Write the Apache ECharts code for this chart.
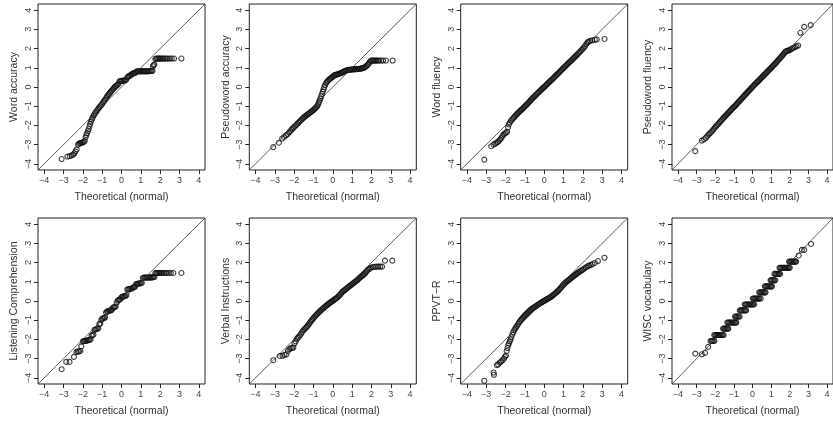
<!DOCTYPE html>
<html><head><meta charset="utf-8">
<script src="https://cdn.jsdelivr.net/npm/echarts@6/dist/echarts.min.js"></script>
<style>html,body{margin:0;padding:0;background:#fff}#c{width:833px;height:422px}</style>
</head><body><div id="c"></div>
<script>
const panelNames = ['Word accuracy','Pseudoword accuracy','Word fluency','Pseudoword fluency',
  'Listening Comprehension','Verbal Instructions','PPVT\u2212R','WISC vocabulary'];
const xAxisName = 'Theoretical (normal)';
const tickValues = [-4,-3,-2,-1,0,1,2,3,4];
const axisRange = [-4.32, 4.32];

const wordAccuracy = [[-3.1,-3.75],[-2.8,-3.62],[-2.68,-3.6],[-2.58,-3.56],[-2.5,-3.52],[-2.44,-3.45],[-2.38,-3.35],[-2.32,-3.25],
[-2.25,-3.0],[-2.2,-2.95],[-2.15,-2.92],[-2.1,-2.92],[-2.05,-2.9],[-2.0,-2.88],[-1.95,-2.86],[-1.9,-2.8],
[-1.86,-2.62],[-1.82,-2.5],[-1.78,-2.4],[-1.74,-2.3],[-1.7,-2.2],[-1.66,-2.05],[-1.62,-1.92],[-1.58,-1.8],[-1.54,-1.7],[-1.5,-1.6],[-1.45,-1.5],[-1.4,-1.42],[-1.35,-1.34],[-1.3,-1.27],[-1.25,-1.2],[-1.2,-1.13],[-1.15,-1.06],[-1.1,-1.0],[-1.05,-0.94],[-1.0,-0.88],[-0.95,-0.8],[-0.9,-0.73],[-0.85,-0.66],[-0.8,-0.58],[-0.75,-0.5],[-0.7,-0.43],[-0.65,-0.37],[-0.6,-0.3],[-0.55,-0.24],[-0.5,-0.18],[-0.45,-0.12],[-0.4,-0.06],[-0.35,0.0],[-0.3,0.04],[-0.25,0.08],[-0.2,0.12],[-0.15,0.18],
[-0.1,0.3],[-0.05,0.31],[0.0,0.32],[0.05,0.32],[0.1,0.33],[0.15,0.34],[0.2,0.35],[0.25,0.4],
[0.3,0.5],[0.35,0.55],[0.4,0.58],[0.45,0.6],[0.5,0.64],[0.55,0.68],[0.6,0.71],[0.65,0.72],[0.7,0.74],[0.75,0.77],
[0.8,0.82],[0.85,0.82],[0.9,0.82],[0.95,0.82],[1.0,0.82],[1.05,0.82],[1.1,0.82],[1.15,0.82],[1.2,0.82],[1.25,0.82],[1.3,0.82],[1.35,0.82],[1.4,0.82],[1.45,0.83],[1.5,0.83],[1.55,0.83],[1.6,0.84],
[1.63,1.08],[1.66,1.14],[1.7,1.18],
[1.75,1.46],[1.8,1.48],[1.85,1.48],[1.9,1.48],[1.95,1.48],[2.0,1.48],[2.06,1.48],[2.12,1.48],[2.18,1.48],[2.25,1.48],[2.32,1.48],[2.4,1.48],[2.5,1.48],[2.6,1.48],[2.72,1.48],[3.1,1.48]];

const pseudowordAccuracy = [[-3.08,-3.13],[-2.79,-2.9],[-2.62,-2.68],[-2.52,-2.6],[-2.42,-2.52],[-2.34,-2.45],[-2.26,-2.36],[-2.2,-2.3],[-2.14,-2.22],[-2.08,-2.16],[-2.02,-2.1],[-1.96,-2.04],[-1.9,-1.98],[-1.84,-1.92],[-1.78,-1.86],[-1.72,-1.8],[-1.66,-1.74],[-1.6,-1.68],[-1.55,-1.63],[-1.5,-1.58],[-1.45,-1.54],[-1.4,-1.5],[-1.35,-1.46],[-1.3,-1.42],[-1.25,-1.39],[-1.2,-1.35],[-1.15,-1.31],[-1.1,-1.27],[-1.05,-1.24],[-1.0,-1.2],[-0.95,-1.15],[-0.9,-1.1],[-0.85,-1.05],[-0.8,-0.98],[-0.76,-0.9],[-0.72,-0.8],[-0.68,-0.7],[-0.64,-0.6],[-0.6,-0.48],[-0.56,-0.36],[-0.52,-0.24],[-0.48,-0.12],[-0.44,0.0],[-0.4,0.1],[-0.35,0.2],[-0.3,0.27],[-0.25,0.33],[-0.2,0.38],[-0.15,0.42],[-0.1,0.46],[-0.05,0.5],[0.0,0.54],[0.05,0.58],[0.1,0.62],[0.15,0.64],[0.2,0.65],[0.25,0.66],[0.3,0.68],[0.35,0.7],[0.4,0.72],[0.45,0.74],[0.5,0.76],[0.55,0.79],[0.6,0.82],[0.65,0.84],[0.7,0.86],[0.75,0.88],[0.8,0.89],[0.85,0.9],[0.9,0.9],[0.95,0.91],[1.0,0.91],[1.05,0.92],[1.1,0.92],[1.15,0.93],[1.2,0.93],[1.25,0.93],[1.3,0.94],[1.35,0.94],[1.4,0.95],[1.45,0.96],[1.5,0.97],[1.55,0.98],[1.6,1.0],[1.65,1.02],[1.7,1.06],[1.75,1.1],[1.8,1.15],[1.85,1.2],[1.9,1.28],[1.95,1.35],[2.0,1.38],[2.05,1.38],[2.1,1.38],[2.15,1.38],[2.2,1.38],[2.26,1.38],[2.33,1.38],[2.4,1.38],[2.5,1.38],[2.6,1.38],[2.75,1.38],[3.1,1.38]];

const wordFluency = [[-3.1,-3.78],[-2.74,-3.08],[-2.62,-3.0],[-2.53,-2.94],[-2.46,-2.9],[-2.4,-2.86],[-2.34,-2.8],[-2.28,-2.73],[-2.22,-2.66],[-2.16,-2.55],[-2.1,-2.47],[-2.04,-2.42],[-1.98,-2.38],[-1.92,-2.33],[-1.87,-2.1],[-1.83,-1.95],[-1.78,-1.85],
[-1.72,-1.76],[-1.66,-1.69],[-1.6,-1.62],[-1.55,-1.56],[-1.5,-1.5],[-1.45,-1.45],[-1.4,-1.4],[-1.35,-1.35],[-1.3,-1.3],[-1.25,-1.25],[-1.2,-1.2],[-1.15,-1.16],[-1.1,-1.11],[-1.05,-1.06],[-1.0,-1.01],[-0.95,-0.96],[-0.9,-0.91],[-0.85,-0.86],[-0.8,-0.8],[-0.75,-0.75],[-0.7,-0.69],[-0.65,-0.63],[-0.6,-0.58],[-0.55,-0.53],[-0.5,-0.48],[-0.45,-0.43],[-0.4,-0.38],[-0.35,-0.33],[-0.3,-0.28],[-0.25,-0.23],[-0.2,-0.19],[-0.15,-0.14],[-0.1,-0.09],[-0.05,-0.04],[0.0,0.0],[0.05,0.05],[0.1,0.1],[0.15,0.15],[0.2,0.2],[0.25,0.25],[0.3,0.3],[0.35,0.34],[0.4,0.39],[0.45,0.44],[0.5,0.49],[0.55,0.54],[0.6,0.59],[0.65,0.64],[0.7,0.69],[0.75,0.74],[0.8,0.79],[0.85,0.84],[0.9,0.89],[0.95,0.94],[1.0,0.99],[1.05,1.04],[1.1,1.09],[1.15,1.14],[1.2,1.19],[1.25,1.24],[1.3,1.29],[1.35,1.33],[1.4,1.38],[1.45,1.43],[1.5,1.48],[1.55,1.53],[1.6,1.58],[1.65,1.63],[1.7,1.68],[1.76,1.74],[1.82,1.8],[1.88,1.86],[1.94,1.93],[2.0,2.0],[2.06,2.06],[2.12,2.14],[2.18,2.24],[2.24,2.32],[2.3,2.36],[2.38,2.4],[2.48,2.43],[2.62,2.46],[2.72,2.48],[3.12,2.5]];

const pseudowordFluency = [[-3.07,-3.34],[-2.72,-2.79],[-2.6,-2.72],[-2.5,-2.64],[-2.43,-2.56],[-2.36,-2.48],[-2.29,-2.41],[-2.22,-2.35],[-2.15,-2.27],[-2.08,-2.19],[-2.02,-2.11],[-1.96,-2.04],[-1.9,-1.98],[-1.84,-1.92],[-1.78,-1.85],[-1.72,-1.79],[-1.66,-1.72],[-1.6,-1.66],[-1.55,-1.6],[-1.5,-1.55],[-1.45,-1.5],[-1.4,-1.45],[-1.35,-1.4],[-1.3,-1.34],[-1.25,-1.29],[-1.2,-1.24],[-1.15,-1.19],[-1.1,-1.14],[-1.05,-1.09],[-1.0,-1.04],[-0.95,-0.99],[-0.9,-0.94],[-0.85,-0.89],[-0.8,-0.84],[-0.75,-0.78],[-0.7,-0.73],[-0.65,-0.68],[-0.6,-0.62],[-0.55,-0.57],[-0.5,-0.51],[-0.45,-0.46],[-0.4,-0.41],[-0.35,-0.35],[-0.3,-0.3],[-0.25,-0.25],[-0.2,-0.2],[-0.15,-0.15],[-0.1,-0.1],[-0.05,-0.04],[0.0,0.01],[0.05,0.06],[0.1,0.11],[0.15,0.16],[0.2,0.21],[0.25,0.26],[0.3,0.3],[0.35,0.35],[0.4,0.4],[0.45,0.45],[0.5,0.5],[0.55,0.55],[0.6,0.6],[0.65,0.65],[0.7,0.7],[0.75,0.75],[0.8,0.8],[0.85,0.85],[0.9,0.9],[0.95,0.95],[1.0,1.0],[1.05,1.05],[1.1,1.1],[1.15,1.15],[1.2,1.2],[1.25,1.25],[1.3,1.31],[1.35,1.36],[1.4,1.42],[1.45,1.47],[1.5,1.53],[1.55,1.58],[1.6,1.64],[1.65,1.7],[1.7,1.76],[1.75,1.82],[1.8,1.86],[1.86,1.88],[1.92,1.9],[1.98,1.92],[2.05,1.96],[2.12,2.0],[2.2,2.04],[2.28,2.08],[2.36,2.12],[2.45,2.16],[2.57,2.82],[2.77,3.13],[3.12,3.22]];

const listeningComprehension = [[-3.1,-3.55],[-2.86,-3.17],[-2.69,-3.17],[-2.46,-2.91],[-2.33,-2.65],[-2.26,-2.63],[-2.2,-2.62],[-2.13,-2.6],[-2.08,-2.36],[-2.0,-2.1],[-1.95,-2.09],[-1.9,-2.08],[-1.85,-2.07],[-1.8,-2.06],[-1.75,-2.05],[-1.7,-2.04],[-1.65,-2.02],[-1.6,-2.0],[-1.55,-1.8],[-1.5,-1.78],[-1.45,-1.75],[-1.4,-1.5],[-1.35,-1.48],[-1.3,-1.46],[-1.25,-1.44],[-1.2,-1.42],[-1.15,-1.2],[-1.1,-1.18],[-1.05,-1.0],[-1.0,-0.92],[-0.95,-0.9],[-0.9,-0.88],[-0.85,-0.86],[-0.8,-0.6],[-0.75,-0.55],[-0.7,-0.53],[-0.65,-0.51],[-0.6,-0.5],[-0.55,-0.48],[-0.5,-0.46],[-0.45,-0.35],[-0.4,-0.33],[-0.35,-0.31],[-0.3,-0.29],[-0.25,-0.1],[-0.2,0.02],[-0.15,0.05],[-0.1,0.08],[-0.05,0.1],[0.0,0.2],[0.05,0.22],[0.1,0.24],[0.15,0.25],[0.2,0.27],[0.25,0.3],[0.3,0.6],[0.35,0.61],[0.4,0.62],[0.45,0.63],[0.5,0.64],[0.55,0.66],[0.6,0.7],[0.65,0.72],[0.7,0.74],[0.75,0.88],[0.8,0.89],[0.85,0.9],[0.9,0.91],[0.95,0.92],[1.0,0.93],[1.05,0.94],[1.1,1.2],[1.15,1.22],[1.2,1.22],[1.25,1.22],[1.3,1.22],[1.35,1.22],[1.4,1.22],[1.45,1.22],[1.5,1.23],[1.55,1.23],[1.6,1.23],[1.65,1.24],[1.7,1.25],[1.75,1.45],[1.8,1.46],[1.85,1.46],[1.9,1.46],[1.95,1.46],[2.0,1.46],[2.06,1.46],[2.12,1.46],[2.2,1.46],[2.28,1.46],[2.36,1.46],[2.45,1.46],[2.55,1.46],[2.68,1.46],[3.1,1.46]];

const verbalInstructions = [[-3.08,-3.08],[-2.74,-2.86],[-2.6,-2.85],[-2.5,-2.8],[-2.4,-2.78],[-2.32,-2.6],[-2.25,-2.5],[-2.18,-2.46],[-2.1,-2.44],[-2.04,-2.42],[-1.98,-2.2],[-1.92,-2.1],[-1.87,-1.98],[-1.82,-1.92],[-1.76,-1.86],[-1.7,-1.79],[-1.64,-1.7],[-1.58,-1.6],[-1.52,-1.52],[-1.46,-1.46],[-1.4,-1.4],[-1.35,-1.35],[-1.3,-1.29],[-1.25,-1.22],[-1.2,-1.15],[-1.15,-1.08],[-1.1,-1.01],[-1.05,-0.95],[-1.0,-0.89],[-0.95,-0.83],[-0.9,-0.77],[-0.85,-0.72],[-0.8,-0.67],[-0.75,-0.62],[-0.7,-0.57],[-0.65,-0.52],[-0.6,-0.47],[-0.55,-0.42],[-0.5,-0.38],[-0.45,-0.34],[-0.4,-0.29],[-0.35,-0.25],[-0.3,-0.21],[-0.25,-0.17],[-0.2,-0.13],[-0.15,-0.09],[-0.1,-0.06],[-0.05,-0.02],[0.0,0.01],[0.05,0.05],[0.1,0.09],[0.15,0.12],[0.2,0.16],[0.25,0.2],[0.3,0.25],[0.35,0.3],[0.4,0.36],[0.45,0.42],[0.5,0.48],[0.55,0.52],[0.6,0.56],[0.65,0.6],[0.7,0.64],[0.75,0.68],[0.8,0.72],[0.85,0.76],[0.9,0.8],[0.95,0.84],[1.0,0.88],[1.05,0.92],[1.1,0.96],[1.15,1.0],[1.2,1.04],[1.25,1.07],[1.3,1.12],[1.35,1.17],[1.4,1.22],[1.45,1.26],[1.5,1.3],[1.55,1.35],[1.6,1.38],[1.65,1.42],[1.7,1.48],[1.75,1.55],[1.8,1.62],[1.86,1.66],[1.92,1.7],[2.0,1.74],[2.08,1.77],[2.16,1.78],[2.25,1.79],[2.35,1.79],[2.45,1.79],[2.55,1.79],[2.7,2.1],[3.08,2.1]];

const ppvtR = [[-3.1,-4.15],[-2.62,-3.72],[-2.6,-3.84],[-2.45,-3.34],[-2.38,-3.3],[-2.3,-3.2],[-2.22,-3.14],[-2.15,-3.08],[-2.08,-3.0],[-2.03,-2.9],[-1.98,-2.84],[-1.94,-2.6],[-1.9,-2.45],[-1.86,-2.3],[-1.82,-2.2],[-1.78,-2.1],[-1.74,-2.0],[-1.7,-1.88],[-1.65,-1.74],[-1.6,-1.62],[-1.55,-1.52],[-1.5,-1.44],[-1.45,-1.36],[-1.4,-1.28],[-1.35,-1.2],[-1.3,-1.12],[-1.25,-1.05],[-1.2,-0.98],[-1.15,-0.92],[-1.1,-0.86],[-1.05,-0.8],[-1.0,-0.75],[-0.95,-0.7],[-0.9,-0.65],[-0.85,-0.6],[-0.8,-0.55],[-0.75,-0.5],[-0.7,-0.46],[-0.65,-0.42],[-0.6,-0.38],[-0.55,-0.35],[-0.5,-0.31],[-0.45,-0.28],[-0.4,-0.25],[-0.35,-0.21],[-0.3,-0.18],[-0.25,-0.14],[-0.2,-0.11],[-0.15,-0.08],[-0.1,-0.05],[-0.05,-0.02],[0.0,0.01],[0.05,0.04],[0.1,0.07],[0.15,0.1],[0.2,0.13],[0.25,0.16],[0.3,0.19],[0.35,0.22],[0.4,0.26],[0.45,0.3],[0.5,0.34],[0.55,0.38],[0.6,0.42],[0.65,0.47],[0.7,0.52],[0.75,0.57],[0.8,0.62],[0.85,0.68],[0.9,0.74],[0.95,0.8],[1.0,0.86],[1.05,0.91],[1.1,0.96],[1.15,1.0],[1.2,1.04],[1.25,1.08],[1.3,1.12],[1.35,1.16],[1.4,1.2],[1.45,1.24],[1.5,1.28],[1.55,1.32],[1.6,1.36],[1.65,1.4],[1.7,1.44],[1.76,1.48],[1.82,1.52],[1.88,1.56],[1.94,1.6],[2.0,1.64],[2.08,1.7],[2.16,1.75],[2.24,1.8],[2.32,1.84],[2.4,1.88],[2.5,1.92],[2.62,1.98],[2.78,2.08],[3.12,2.25]];

const wiscVocabulary = [[-3.07,-2.74],[-2.72,-2.77],[-2.55,-2.7],[-2.38,-2.39],
[-2.25,-2.08],[-2.2,-2.08],[-2.15,-2.08],[-2.1,-2.08],[-2.05,-2.08],
[-2.05,-1.77],[-2.0,-1.77],[-1.95,-1.77],[-1.9,-1.77],[-1.85,-1.77],[-1.8,-1.77],[-1.75,-1.77],[-1.7,-1.77],[-1.65,-1.77],[-1.6,-1.77],[-1.55,-1.77],
[-1.58,-1.44],[-1.53,-1.44],[-1.48,-1.44],[-1.43,-1.44],[-1.38,-1.44],[-1.33,-1.44],[-1.3,-1.44],
[-1.35,-1.12],[-1.3,-1.12],[-1.25,-1.12],[-1.2,-1.12],[-1.15,-1.12],[-1.1,-1.12],[-1.05,-1.12],[-1.0,-1.12],[-0.95,-1.12],[-0.9,-1.12],[-0.87,-1.12],
[-0.94,-0.81],[-0.89,-0.81],[-0.84,-0.81],[-0.79,-0.81],[-0.74,-0.81],[-0.69,-0.81],
[-0.68,-0.49],[-0.63,-0.49],[-0.58,-0.49],[-0.53,-0.49],[-0.48,-0.49],[-0.43,-0.49],[-0.38,-0.49],[-0.34,-0.49],
[-0.42,-0.18],[-0.37,-0.18],[-0.32,-0.18],[-0.27,-0.18],[-0.22,-0.18],[-0.17,-0.18],[-0.12,-0.18],[-0.07,-0.18],[-0.02,-0.18],[0.03,-0.18],[0.09,-0.18],
[0.02,0.13],[0.07,0.13],[0.12,0.13],[0.17,0.13],[0.22,0.13],[0.27,0.13],[0.32,0.13],[0.37,0.13],[0.44,0.13],
[0.36,0.45],[0.41,0.45],[0.46,0.45],[0.51,0.45],[0.56,0.45],[0.61,0.45],[0.66,0.45],[0.7,0.45],
[0.66,0.76],[0.71,0.76],[0.76,0.76],[0.81,0.76],[0.86,0.76],[0.91,0.76],[0.96,0.76],[1.01,0.76],[1.04,0.76],
[0.97,1.08],[1.02,1.08],[1.07,1.08],[1.12,1.08],[1.17,1.08],[1.22,1.08],
[1.18,1.41],[1.23,1.41],[1.28,1.41],[1.33,1.41],[1.38,1.41],[1.43,1.41],[1.48,1.41],
[1.45,1.73],[1.5,1.73],[1.55,1.73],[1.6,1.73],[1.65,1.73],[1.7,1.73],[1.75,1.73],[1.8,1.73],[1.85,1.73],[1.9,1.73],[1.95,1.73],[2.0,1.73],
[1.96,2.05],[2.01,2.05],[2.06,2.05],[2.11,2.05],[2.16,2.05],[2.21,2.05],[2.26,2.05],[2.31,2.05],[2.34,2.05],
[2.48,2.37],[2.65,2.66],[2.77,2.66],[3.14,2.97]];

const panelData = [wordAccuracy, pseudowordAccuracy, wordFluency, pseudowordFluency,
  listeningComprehension, verbalInstructions, ppvtR, wiscVocabulary];

const colLefts = [38, 249.3, 460.7, 672];
const rowTops = [4, 218];
const boxW = 167, boxH = 166;
const fmt = v => v < 0 ? '\u2212' + Math.abs(v) : String(v);
const font = 'Liberation Sans, Arial, Helvetica, sans-serif';

const grid = [], xAxis = [], yAxis = [], series = [];
panelData.forEach((d, i) => {
  const r = Math.floor(i / 4), c = i % 4;
  grid.push({left: colLefts[c], top: rowTops[r], width: boxW, height: boxH,
    show: true, borderColor: '#222', borderWidth: 1, backgroundColor: 'transparent', containLabel: false});
  const common = {
    type: 'value', gridIndex: i, min: axisRange[0], max: axisRange[1],
    axisLine: {show: false, onZero: false}, splitLine: {show: false},
    axisTick: {show: true, customValues: tickValues, length: 4, lineStyle: {color: '#222', width: 1}},
    nameLocation: 'middle',
    nameTextStyle: {fontFamily: font, fontSize: 10.5, color: '#333'}
  };
  xAxis.push(Object.assign({}, common, {
    position: 'bottom', name: xAxisName, nameGap: 22,
    axisLabel: {customValues: tickValues, formatter: fmt, fontFamily: font, fontSize: 9, color: '#444', margin: 6}
  }));
  yAxis.push(Object.assign({}, common, {
    position: 'left', name: panelNames[i], nameGap: 18,
    axisLabel: {customValues: tickValues, formatter: fmt, fontFamily: font, fontSize: 9, color: '#444', margin: 5, rotate: 90}
  }));
  series.push({type: 'line', xAxisIndex: i, yAxisIndex: i, data: [[axisRange[0], axisRange[0]], [axisRange[1], axisRange[1]]],
    symbol: 'none', silent: true, lineStyle: {color: '#333', width: 0.8}, clip: true});
  series.push({type: 'scatter', xAxisIndex: i, yAxisIndex: i, data: d, symbol: 'circle', symbolSize: 5,
    silent: true, itemStyle: {color: 'rgba(0,0,0,0)', borderColor: '#111', borderWidth: 1.1}});
});

const chart = echarts.init(document.getElementById('c'), null, {renderer: 'canvas'});
chart.setOption({animation: false, backgroundColor: '#fff', grid, xAxis, yAxis, series});
</script></body></html>
